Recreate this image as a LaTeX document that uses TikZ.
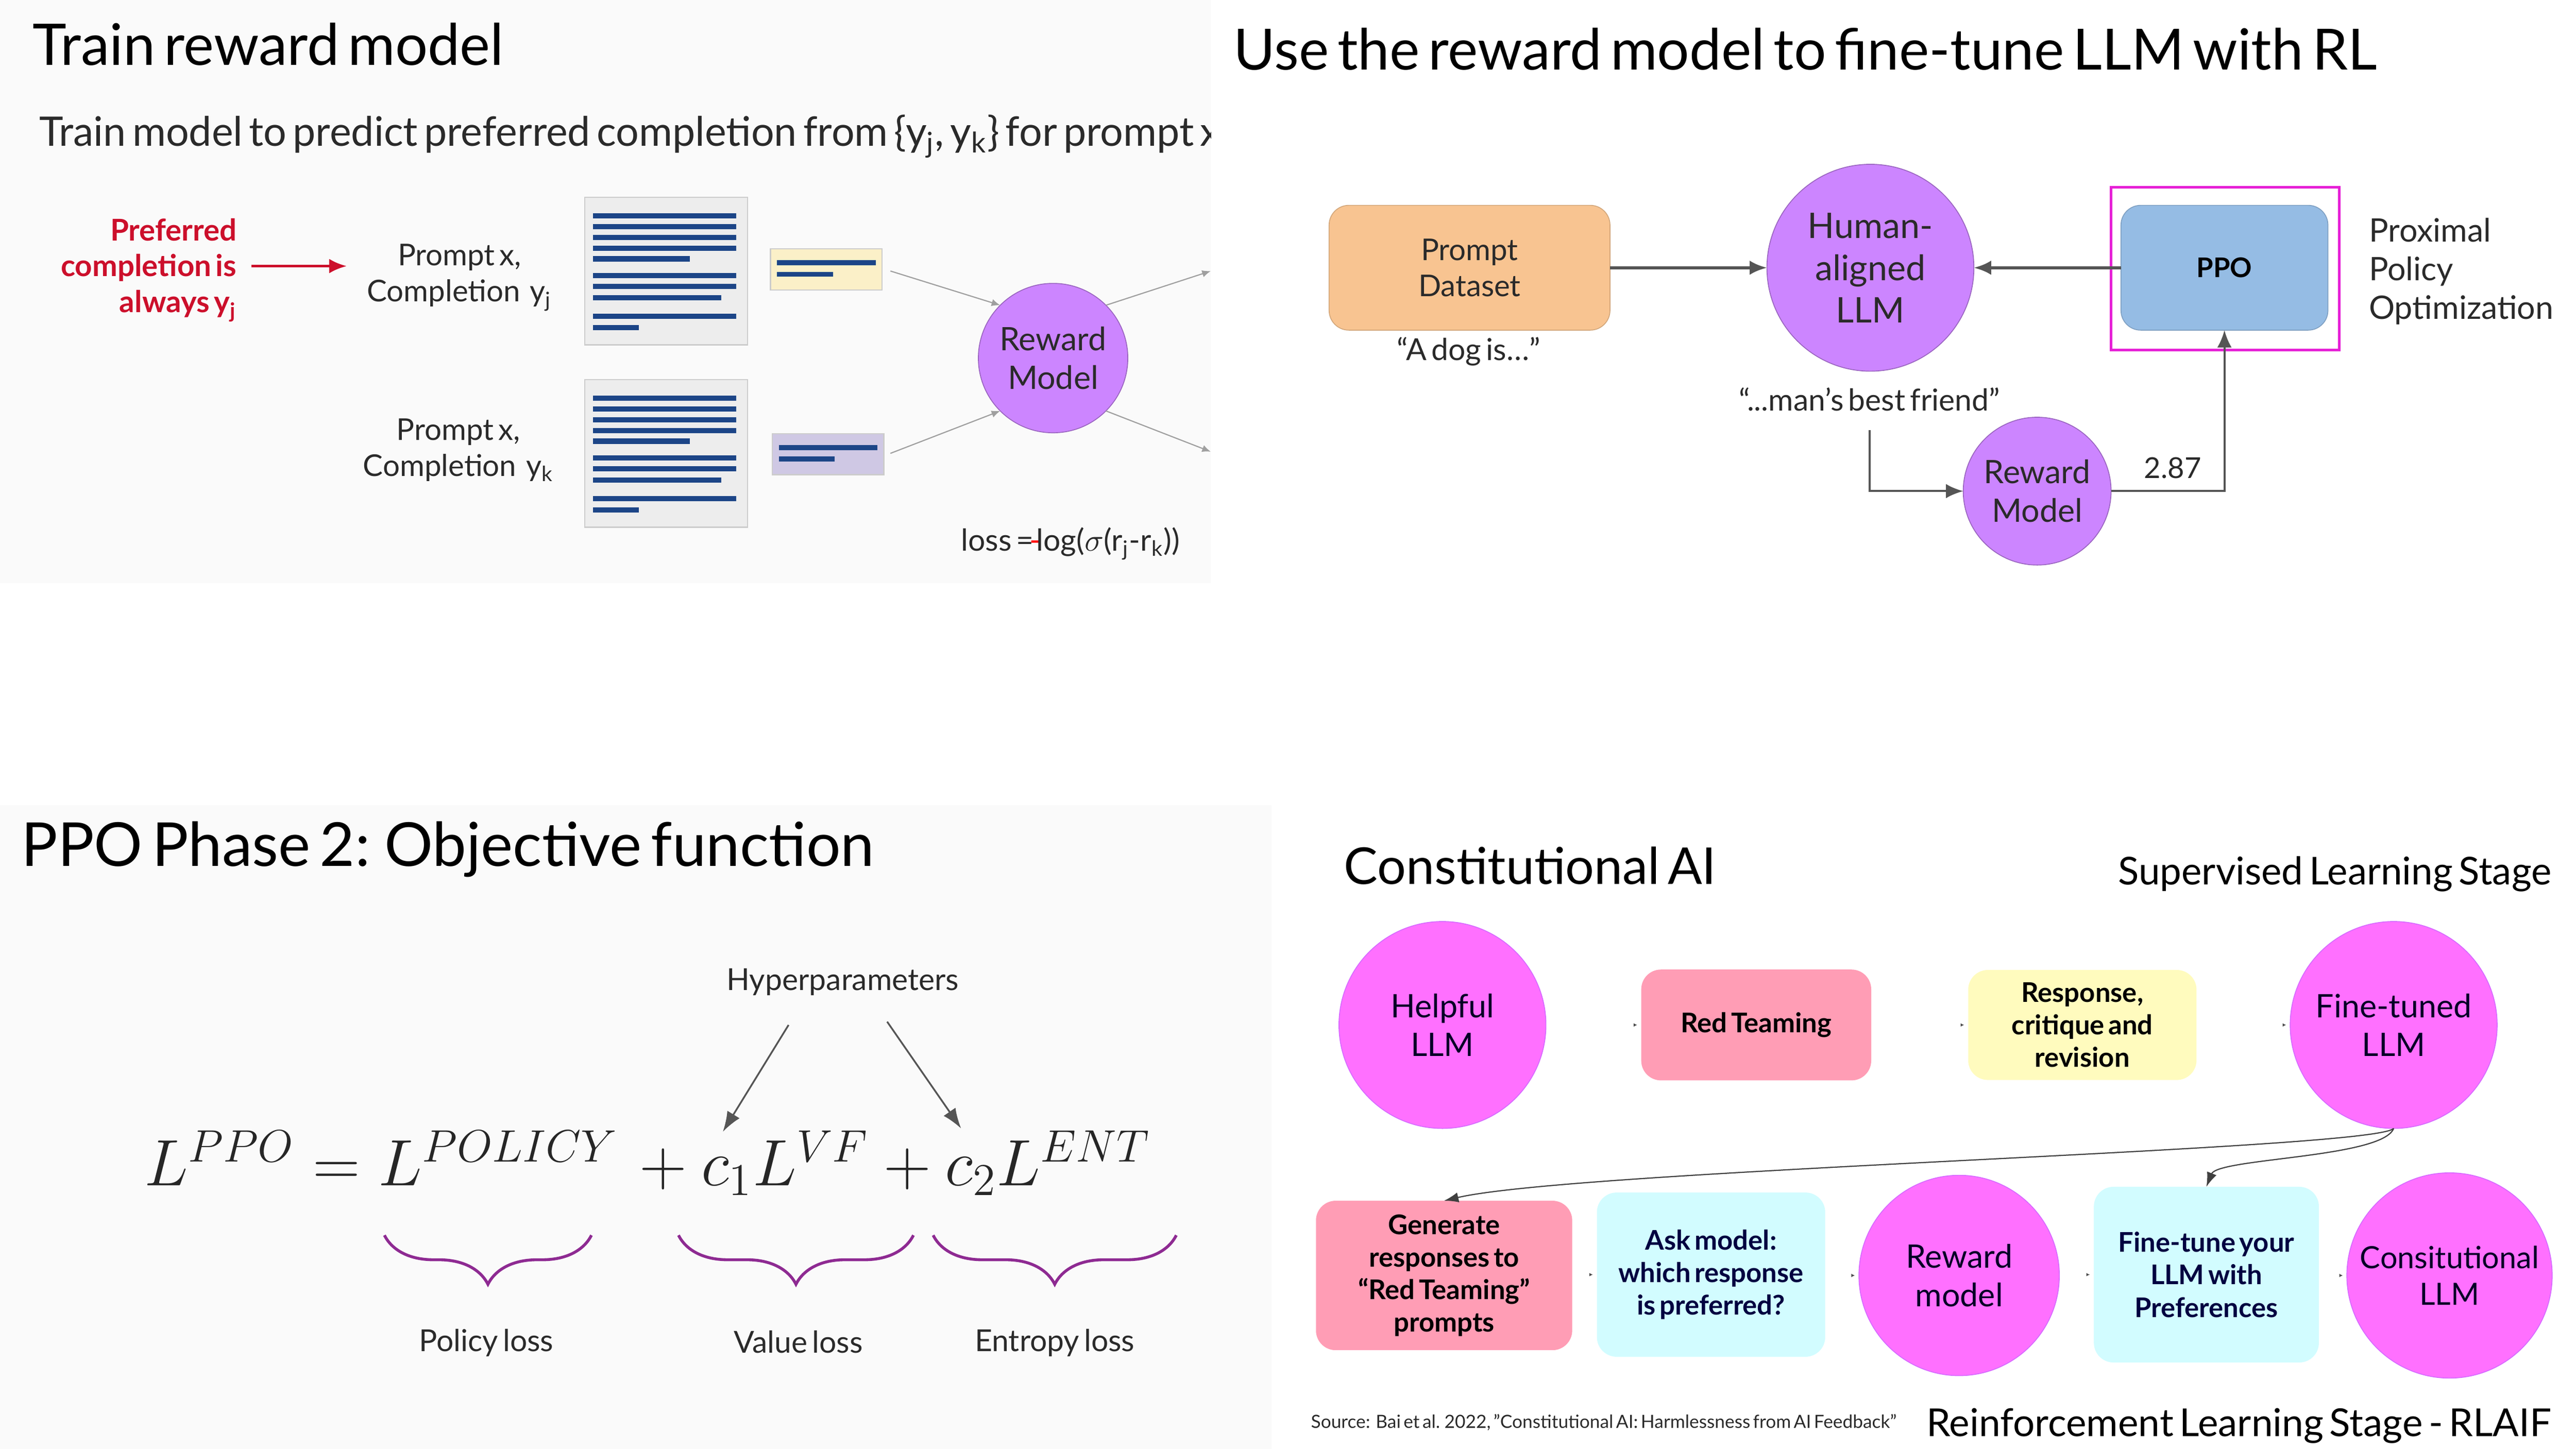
\documentclass[tikz,border=0pt]{standalone}
\usepackage[no-math]{fontspec}
\setmainfont{Lato}[WordSpace=0.6]
\usetikzlibrary{arrows.meta,shapes.geometric,decorations.pathreplacing}

\definecolor{inkgray}{HTML}{2A2A2A}
\definecolor{linegray}{HTML}{555555}
\definecolor{panelgray}{HTML}{FAFAFA}
\definecolor{violetfill}{HTML}{CC85FF}
\definecolor{orchidfill}{HTML}{FF70FF}
\definecolor{pinkfill}{HTML}{FF9DB5}
\definecolor{creamfill}{HTML}{FFFBBE}
\definecolor{icefill}{HTML}{D2FCFF}
\definecolor{orangefill}{HTML}{F8C491}
\definecolor{bluefill}{HTML}{95BCE4}
\definecolor{barblue}{HTML}{1C4587}
\definecolor{prefred}{HTML}{CC0F2B}
\definecolor{bracepurple}{HTML}{8E2A92}
\definecolor{framepink}{HTML}{E61FD6}
\definecolor{chipcream}{HTML}{FBF0C8}
\definecolor{chiplilac}{HTML}{CFC8E4}

\newcommand{\fsz}[1]{\fontsize{#1}{1.2\dimexpr#1pt\relax}\selectfont}

\tikzset{
  x=0.02cm, y=-0.02cm,
  every node/.style={inner sep=0pt, outer sep=0pt, text=inkgray, align=center},
  heading/.style={anchor=west, text=black, font=\fsz{#1}},
  label/.style={font=\fsz{10.4}},
  tag/.style={font=\fsz{10.5}},
  lowtext/.style={execute at begin node={\vspace*{2pt}}},
  ballviolet/.style={circle, draw=violetfill!75!black, line width=0.3pt, fill=violetfill, font=\fsz{11.2}},
  ballorchid/.style={circle, draw=violetfill!80!magenta, line width=0.3pt, fill=orchidfill, text=black!85!blue, font=\fsz{11.2}},
  slab/.style={rectangle, rounded corners=0.24cm, font=\fsz{9.4}\bfseries, text=black},
  plainarrow/.style={draw=linegray, line width=1pt, -{Latex[length=6pt,width=5pt]}},
  thinarrow/.style={draw=gray!75, line width=0.4pt, -{Latex[length=3pt,width=2.5pt]}},
  slimarrow/.style={draw=linegray, line width=0.6pt, -{Latex[length=7pt,width=5pt]}},
  bendarrow/.style={draw=black!75, line width=0.4pt, -{Latex[length=5pt,width=3.5pt]}},
  tinytip/.style={draw=black!70, line width=0.2pt, -{Latex[length=1.2pt,width=1.2pt]}},
  pagebox/.style={rectangle, fill=black!7, draw=black!20, line width=0.4pt,
    minimum width=1.98cm, minimum height=1.8cm},
  chip/.style={rectangle, draw=black!20, line width=0.4pt, minimum width=1.36cm, minimum height=0.5cm},
  bracket/.style={draw=bracepurple, line width=1pt, decorate,
    decoration={brace, mirror, amplitude=17pt, aspect=0.5}},
}

\begin{document}
\begin{tikzpicture}
  \useasboundingbox (0,0) rectangle (1568,882);
  \fill[panelgray] (0,0) rectangle (737,355);
  \fill[panelgray] (0,490) rectangle (774,882);

  % train reward model
  \node[heading=19.9] (traintitle) at (20,27) {Train reward model};
  \begin{scope}
    \clip (0,0) rectangle (737,355);
    \node[anchor=west, font=\fsz{14.1}] (trainline) at (24,83)
      {Train model to predict preferred completion from \{y\textsubscript{j}, y\textsubscript{k}\} for prompt x};
  \end{scope}
  \node[anchor=east, text=prefred, font=\fsz{10.4}\bfseries] (prefnote) at (144,164)
    {\begin{tabular}{@{}r@{}}Preferred\\completion is\\always y\textsubscript{j}\end{tabular}};
  \coordinate (prefstart) at (153,162);
  \coordinate (prefend) at (211,162);
  \draw[draw=prefred, line width=0.9pt, -{Latex[length=6pt,width=5pt]}] (prefstart) -- (prefend);

  \node[label, anchor=east] (promptj) at (336,169) {Prompt x,\\Completion\, y\textsubscript{j}};
  \node[label, anchor=east] (promptk) at (337,274) {Prompt x,\\Completion\, y\textsubscript{k}};

  \node[pagebox] (pagej) at (405.5,165) {};
  \node[pagebox] (pagek) at (405.5,276) {};
  \foreach \pg in {pagej,pagek}
    \foreach \bary/\barw in {9.8/87, 16.4/87, 23/87, 29.5/87, 36/59, 46.2/87, 52.7/87, 59.7/78, 71/87, 77.8/28}
      \fill[barblue] ([shift={(5,\bary)}]\pg.north west) rectangle +(\barw,3.2);

  \node[chip, fill=chipcream] (chipj) at (503,164) {};
  \node[chip, fill=chiplilac] (chipk) at (504,276.5) {};
  \foreach \chipname in {chipj,chipk} {
    \fill[barblue] ([shift={(4,7)}]\chipname.north west) rectangle +(60,3);
    \fill[barblue] ([shift={(4,14)}]\chipname.north west) rectangle +(34,3);
  }

  \node[ballviolet, minimum size=1.82cm] (rewardtrain) at (641,218) {Reward\\Model};
  \coordinate (fromj) at (542,165);
  \coordinate (fromk) at (542,276);
  \coordinate (outj) at (737,165);
  \coordinate (outk) at (737,275);
  \draw[thinarrow] (fromj) -- (rewardtrain.135);
  \draw[thinarrow] (fromk) -- (rewardtrain.225);
  \draw[thinarrow] (rewardtrain.45) -- (outj);
  \draw[thinarrow] (rewardtrain.-45) -- (outk);
  \node[anchor=west, font=\fsz{10.5}] (lossnote) at (585,331)
    {loss =\hspace{-1.5pt}\textcolor{red}{-}\hspace{-1.5pt}log($\sigma$(r\textsubscript{j}-r\textsubscript{k}))};

  % fine-tune with RL
  \node[heading=19.7] (rltitle) at (751,30) {Use the reward model to fine-tune LLM with RL};
  \node[rectangle, rounded corners=0.24cm, fill=orangefill, draw=orangefill!85!black, line width=0.3pt,
    minimum width=3.42cm, minimum height=1.52cm, label] (dataset) at (894.5,163) {Prompt\\Dataset};
  \node[tag] (dognote) at (894,214) {“A dog is…”};
  \node[ballviolet, minimum size=2.52cm, font=\fsz{12.2}] (humanllm) at (1138.5,163) {Human-\\aligned\\LLM};
  \node[rectangle, rounded corners=0.24cm, fill=bluefill, draw=bluefill!85!black, line width=0.3pt,
    minimum width=2.52cm, minimum height=1.52cm, font=\fsz{9.4}\bfseries, text=black] (ppo) at (1354,163) {PPO};
  \node[rectangle, draw=framepink, line width=0.9pt,
    minimum width=2.78cm, minimum height=1.98cm] (ppoframe) at (1354.5,163.5) {};
  \node[anchor=west, font=\fsz{11.2}] (pponame) at (1442,166) {\begin{tabular}{@{}l@{}}Proximal\\Policy\\Optimization\end{tabular}};
  \node[tag] (friendnote) at (1138,243) {“...man’s best friend”};
  \node[ballviolet, minimum size=1.8cm] (rewardrl) at (1240,299) {Reward\\Model};
  \node[font=\fsz{10}] (scorenote) at (1322.5,285) {2.87};
  \coordinate (friendend) at (1138,262);
  \draw[plainarrow] (dataset) -- (humanllm);
  \draw[plainarrow] (ppo) -- (humanllm);
  \draw[plainarrow, line width=0.7pt] (friendend) |- (rewardrl);
  \draw[plainarrow, line width=0.7pt] (rewardrl) -| (ppo);

  % objective function
  \node[heading=21] (ppotitle) at (13,517) {PPO Phase 2: Objective function};
  \node[tag] (hypernote) at (513,598) {Hyperparameters};
  \node[anchor=west, text=black!85, font=\huge, scale=1.095] (lossformula) at (88,708)
    {$L^{PPO}=L^{POLICY}\hspace{0.1em}+c_1L^{VF}+c_2L^{ENT}$};
  \coordinate (hypleft) at (480,624);
  \coordinate (hypright) at (540,622);
  \coordinate (coefone) at (440,689);
  \coordinate (coeftwo) at (585,687);
  \draw[slimarrow] (hypleft) -- (coefone);
  \draw[slimarrow] (hypright) -- (coeftwo);
  \draw[bracket] (234,752) coordinate (policya) -- (360,752) coordinate (policyb);
  \draw[bracket] (413,752) coordinate (valuea) -- (556,752) coordinate (valueb);
  \draw[bracket] (568,752) coordinate (entropya) -- (716,752) coordinate (entropyb);
  \node[tag] (policynote) at (296,817.5) {Policy loss};
  \node[tag] (valuenote) at (486,817) {Value loss};
  \node[tag] (entropynote) at (642,817.5) {Entropy loss};

  % constitutional ai
  \node[heading=17.6] (caititle) at (818,527) {Constitutional AI};
  \node[anchor=east, text=black, font=\fsz{13.3}] (superstage) at (1553,532) {Supervised Learning Stage};
  \node[ballorchid, minimum size=2.52cm] (helpful) at (878,624) {Helpful\\LLM};
  \node[slab, fill=pinkfill, minimum width=2.8cm, minimum height=1.35cm] (redteam) at (1069,624) {Red Teaming};
  \node[slab, fill=creamfill, minimum width=2.78cm, minimum height=1.34cm] (response) at (1267.5,624) {Response,\\critique and\\revision};
  \node[ballorchid, minimum size=2.52cm] (finetuned) at (1457,624) {Fine-tuned\\LLM};
  \node[slab, lowtext, fill=pinkfill, minimum width=3.12cm, minimum height=1.82cm] (genbox) at (879,776.5) {Generate\\responses to\\“Red Teaming”\\prompts};
  \node[slab, lowtext, fill=icefill, text=black!75!blue, minimum width=2.78cm, minimum height=2cm] (askmodel) at (1041.5,776) {Ask model:\\which response\\is preferred?};
  \node[ballorchid, minimum size=2.44cm] (rewardcai) at (1192.5,776.5) {Reward\\model};
  \node[slab, fill=icefill, text=black!75!blue, minimum width=2.74cm, minimum height=2.14cm] (tunebox) at (1343,776) {Fine-tune your\\LLM with\\Preferences};
  \node[ballorchid, minimum size=2.5cm, font=\fsz{10.6}] (constllm) at (1491,776.5) {Consitutional\\LLM};
  \foreach \nd in {redteam,response,finetuned,askmodel,rewardcai,tunebox,constllm}
    \draw[tinytip] ([xshift=-0.09cm]\nd.west) -- ([xshift=-0.05cm]\nd.west);
  \draw[bendarrow] (finetuned.south) .. controls (1445,700) and (960,712) .. (genbox.north);
  \draw[bendarrow] (finetuned.south) .. controls (1450,705) and (1350,705) .. (tunebox.north);
  \node[anchor=west, font=\fsz{6.3}] (sourcenote) at (798,866) {Source:\ \ Bai et al. 2022, "Constitutional AI: Harmlessness from AI Feedback"};
  \node[anchor=east, text=black, font=\fsz{13.35}] (rlstage) at (1553,868) {Reinforcement Learning Stage - RLAIF};
\end{tikzpicture}
\end{document}
